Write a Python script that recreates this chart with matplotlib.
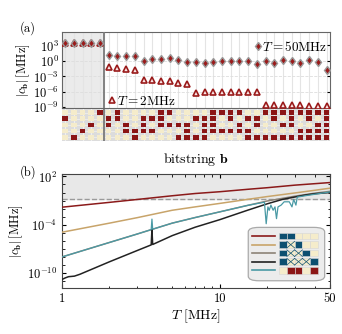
import numpy as np
import matplotlib
matplotlib.use('Agg')
import matplotlib.pyplot as plt
from matplotlib.patches import Rectangle, FancyBboxPatch
from matplotlib.lines import Line2D

plt.rcParams.update({
    'font.family': 'serif',
    'font.serif': ['cmr10'],
    'mathtext.fontset': 'cm',
    'axes.unicode_minus': False,
    'axes.formatter.use_mathtext': True,
    'font.size': 9,
})

# ---- panel (a) data: 31 bitstrings, |c_b| at T=2MHz and T=50MHz (log10 MHz)
bitstrings = ['01000', '00001', '00010', '00100', '10000',
              '01100', '11000', '00110', '00011',
              '01110', '01010', '11100', '10100', '00101', '00111',
              '01001', '01111', '11110', '10010', '11010', '10110', '01011', '01101',
              '10001', '11001', '10101', '11101', '10011', '11011', '10111', '11111']
log_c_T2 = [3.45, 3.45, 3.45, 3.45, 3.45,
            -1.1, -1.4, -1.6, -1.7,
            -3.77, -3.77, -3.8, -3.8, -4.3, -4.5,
            -6.2, -6.07, -6.07, -6.07, -6.07, -6.07, -6.07, -6.07,
            -8.45, -8.45, -8.45, -8.5, -8.55, -8.7, -8.7, -8.7]
log_c_T50 = [3.45, 3.45, 3.45, 3.45, 3.45,
             1.15, 0.96, 0.96, 0.96,
             0.0, 0.38, 0.38, 0.5, 0.19, -0.25,
             -0.25, -0.45, -0.25, -0.06, -0.1, -0.1, 0.0, -0.5,
             -0.1, -0.35, 0.19, 0.0, -0.35, 0.13, -0.25, -1.7]

# ---- panel (b) data: |c_b| vs T (log10 MHz)
T_smooth = [1, 2, 3, 5, 7, 10, 15, 20, 30, 40, 50]
log_red = [-1.82, -1.22, -0.86, -0.4, -0.12, 0.1, 0.4, 0.6, 0.92, 1.1, 1.24]
log_tan = [-4.93, -3.8, -3.12, -2.2, -1.78, -1.35, -0.85, -0.5, -0.05, 0.28, 0.54]
log_gray = [-8.0, -6.2, -5.15, -3.8, -3.1, -2.4, -1.6, -1.05, -0.45, -0.08, 0.15]

T_black = [1, 1.05, 1.1, 1.2, 1.3, 2, 3, 3.68, 3.72, 3.76, 5, 7, 10, 15, 20, 25, 30, 35, 40, 50]
log_black = [-10.8, -10.6, -10.45, -10.38, -10.15, -8.6, -7.2, -6.5, -4.6, -6.45,
             -5.35, -4.3, -3.37, -2.2, -1.4, -0.85, -0.55, -0.3, -0.15, 0.0]

T_teal = [1, 2, 3, 3.68, 3.72, 3.76, 5, 7, 10, 15, 19.2, 19.7, 20.2, 20.6, 21.1, 21.8,
          22.4, 22.9, 23.4, 24.5, 25.6, 27.6, 28.7, 29.4, 30.4, 31.0, 32.5, 35, 40.5, 50]
log_teal = [-8.0, -6.2, -5.15, -4.6, -3.3, -4.55, -3.8, -3.1, -2.4, -1.6, -1.2, -3.87,
            -1.78, -2.2, -1.56, -2.2, -1.78, -3.24, -1.78, -1.56, -1.15, -1.15, -1.78,
            -0.85, -1.56, -0.56, -0.5, -0.39, -0.2, 0.08]
threshold_log = -0.85

legend_bits = ['11000', '1x100', '1xx10', '1xxx1', '0rr0r']
line_colors = ['#8b1a1a', '#c8a46a', '#8c8377', '#222222', '#4a9aa5']

RED = '#8b1515'
BLUE = '#0d4f70'
CREAM = '#f5eccb'

fig = plt.figure(figsize=(3.42, 3.34), dpi=100)
axa = fig.add_axes([0.181, 0.677, 0.784, 0.227])
axg = fig.add_axes([0.181, 0.578, 0.784, 0.096])
axb = fig.add_axes([0.181, 0.139, 0.784, 0.340])

# ---------------- panel (a)
x = np.arange(len(bitstrings))
xlim = (-0.37, 30.4)
axa.set_yscale('log')
axa.set_xlim(*xlim)
axa.set_ylim(10**-9.1, 10**5.6)
axa.axvspan(xlim[0], 4.5, color='#ebebeb', zorder=0)
for i in x:
    axa.axvline(i, color='#e4e4e4', lw=0.8, zorder=0.5)
for e in [0, -3, -6]:
    axa.axhline(10.0**e, color='#dddddd', lw=0.6, ls='--', zorder=0.5)
axa.axvline(4.5, color='#7a7a7a', lw=1.3, zorder=3)
axa.plot(x, 10**np.array(log_c_T2), ls='none', marker='^', ms=5, mfc='#fbe7e7',
         mec='#9a1b1b', mew=1.2, zorder=4)
axa.plot(x, 10**np.array(log_c_T50), ls='none', marker='d', ms=4.3, mfc='#9a1b1b',
         mec='#9a9a9a', mew=1.0, zorder=5)
axa.set_yticks([1e3, 1e0, 1e-3, 1e-6, 1e-9])
axa.set_yticks([], minor=True)
axa.set_xticks([])
axa.tick_params(axis='y', direction='in', right=True, length=2.5, pad=2)
for s in axa.spines.values():
    s.set_color('#666666')
axa.set_ylabel(r'$|c_{\mathbf{b}}|\,[\mathrm{MHz}]$', labelpad=1)

tri = Line2D([], [], marker='^', ls='none', mfc='#fbe7e7', mec='#9a1b1b', ms=5, mew=1.2)
dia = Line2D([], [], marker='d', ls='none', mfc='#9a1b1b', mec='#9a9a9a', ms=4.3, mew=1.0)
leg1 = axa.legend([tri], [r'$T=2\mathrm{MHz}$'], loc='lower left', bbox_to_anchor=(0.155, -0.07),
                  frameon=False, handlelength=0.5, handletextpad=0.1, borderaxespad=0,
                  fontsize=9.5)
axa.add_artist(leg1)
axa.legend([dia], [r'$T=50\mathrm{MHz}$'], loc='upper right', bbox_to_anchor=(1.01, 0.97),
           frameon=False, handlelength=0.5, handletextpad=0.1, borderaxespad=0, fontsize=9.5)

# ---------------- bitstring grid
axg.set_xlim(*xlim)
axg.set_ylim(4.6, -0.6)
axg.set_facecolor('#dcdcdc')
for i in x:
    axg.axvline(i, color='#efefef', lw=0.8, zorder=0.5)
for r in range(5):
    axg.axhline(r, color='#efefef', lw=0.6, zorder=0.5)
for i, b in enumerate(bitstrings):
    for r, ch in enumerate(b):
        axg.add_patch(Rectangle((i - 0.32, r - 0.38), 0.64, 0.76,
                                color=RED if ch == '1' else CREAM, lw=0, zorder=2))
axg.axvline(4.5, color='#7a7a7a', lw=1.3, zorder=3)
axg.set_xticks([])
axg.set_yticks([])
for s in axg.spines.values():
    s.set_visible(False)
axg.set_xlabel(r'bitstring $\mathbf{b}$', fontsize=10, labelpad=7)

# ---------------- panel (b)
axb.set_xscale('log')
axb.set_yscale('log')
axb.set_xlim(1, 50)
axb.set_ylim(10**-11.8, 10**2.3)
axb.axhspan(10**threshold_log, 10**2.3, color='#e8e8e8', zorder=0)
axb.axhline(10**threshold_log, color='#9a9a9a', ls='--', lw=1, zorder=1)
axb.plot(T_smooth, 10**np.array(log_red), color=line_colors[0], lw=1.1, zorder=3)
axb.plot(T_smooth, 10**np.array(log_tan), color=line_colors[1], lw=1.1, zorder=3)
axb.plot(T_smooth, 10**np.array(log_gray), color=line_colors[2], lw=1.1, zorder=3)
axb.plot(T_black, 10**np.array(log_black), color=line_colors[3], lw=1.1, zorder=3)
axb.plot(T_teal, 10**np.array(log_teal), color=line_colors[4], lw=0.9, zorder=4)

axb.set_xticks([1, 10, 50])
axb.set_xticklabels(['1', '10', '50'])
axb.set_yticks([1e2, 1e-4, 1e-10])
axb.set_yticks(10.0**np.arange(-11, 3), minor=True)
axb.set_yticklabels([], minor=True)
axb.set_xticklabels([], minor=True)
axb.tick_params(which='both', direction='in', top=True, right=True)
axb.tick_params(which='major', length=3)
axb.tick_params(which='minor', length=1.8)
for s in axb.spines.values():
    s.set_color('#444444')
axb.set_xlabel(r'$T\ [\mathrm{MHz}]$', fontsize=10, labelpad=2)
axb.set_ylabel(r'$|c_{\mathbf{b}}|\,[\mathrm{MHz}]$', labelpad=1)

# custom legend box
axb.add_patch(FancyBboxPatch((0.695, 0.06), 0.285, 0.47,
                             boxstyle='round,pad=0,rounding_size=0.04',
                             transform=axb.transAxes, fc='#ececec', ec='#aaaaaa',
                             lw=0.9, zorder=6))
cw, ch_ = 0.029, 0.058
cx0 = 0.81
ys = [0.455, 0.378, 0.303, 0.228, 0.152]
for k, (bits, col) in enumerate(zip(legend_bits, line_colors)):
    yy = ys[k]
    axb.plot([0.71, 0.795], [yy, yy], transform=axb.transAxes, color=col, lw=1.2,
             zorder=7)
    for j, c in enumerate(bits):
        fc = {'1': BLUE, 'r': RED}.get(c, CREAM)
        x0 = cx0 + j * cw
        axb.add_patch(Rectangle((x0, yy - ch_ / 2), cw, ch_, transform=axb.transAxes,
                                fc=fc, ec='#d6d6d6', lw=0.4, zorder=7))
        if c == 'x':
            axb.plot([x0, x0 + cw], [yy - ch_ / 2, yy + ch_ / 2], transform=axb.transAxes,
                     color=BLUE, lw=0.5, zorder=8)
            axb.plot([x0, x0 + cw], [yy + ch_ / 2, yy - ch_ / 2], transform=axb.transAxes,
                     color=BLUE, lw=0.5, zorder=8)

fig.text(0.058, 0.916, '(a)', fontsize=9, va='center')
fig.text(0.058, 0.485, '(b)', fontsize=9, va='center')

fig.savefig('out.png', dpi=100)
